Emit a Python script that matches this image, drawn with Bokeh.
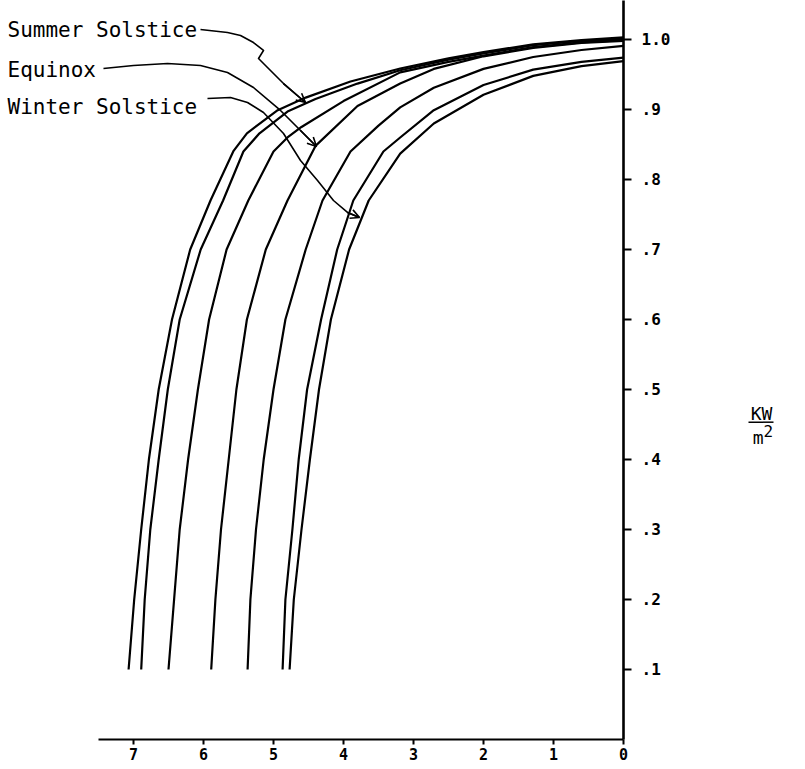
from bokeh.plotting import figure
from bokeh.layouts import row
from bokeh.models import Range1d, FixedTicker, Arrow, OpenHead
from bokeh.core.properties import value
from bokeh.embed import file_html
from bokeh.resources import INLINE

# ---- data (x: distance value, y: KW/m^2) ----
c1_x = [7.07, 6.99, 6.89, 6.78, 6.64, 6.45, 6.19, 5.90, 5.57, 5.38, 4.94, 4.54, 3.90, 3.19, 2.50, 2.00, 1.29, 0.60, 0.0]
c1_y = [0.10, 0.20, 0.30, 0.40, 0.50, 0.60, 0.70, 0.77, 0.841, 0.866, 0.899, 0.917, 0.940, 0.9585, 0.973, 0.982, 0.993, 0.999, 1.003]
c2_x = [6.89, 6.84, 6.76, 6.64, 6.51, 6.34, 6.04, 5.72, 5.43, 5.20, 4.80, 4.40, 3.80, 3.19, 2.50, 2.00, 1.29, 0.60, 0.0]
c2_y = [0.10, 0.20, 0.30, 0.40, 0.50, 0.60, 0.70, 0.77, 0.84, 0.866, 0.897, 0.915, 0.937, 0.956, 0.971, 0.980, 0.992, 0.998, 1.001]
c3_x = [6.50, 6.42, 6.34, 6.22, 6.08, 5.92, 5.67, 5.36, 5.00, 4.80, 4.60, 4.00, 3.19, 2.50, 2.00, 1.29, 0.60, 0.0]
c3_y = [0.10, 0.20, 0.30, 0.40, 0.50, 0.60, 0.70, 0.77, 0.84, 0.860, 0.875, 0.912, 0.953, 0.968, 0.977, 0.989, 0.996, 0.999]
c4_x = [5.89, 5.83, 5.75, 5.64, 5.53, 5.38, 5.11, 4.80, 4.40, 3.80, 3.19, 2.71, 2.00, 1.29, 0.60, 0.0]
c4_y = [0.10, 0.20, 0.30, 0.40, 0.50, 0.60, 0.70, 0.77, 0.848, 0.905, 0.937, 0.958, 0.976, 0.988, 0.995, 0.998]
c5_x = [5.37, 5.33, 5.25, 5.14, 5.00, 4.83, 4.54, 4.30, 3.90, 3.50, 3.19, 2.71, 2.00, 1.29, 0.60, 0.0]
c5_y = [0.10, 0.20, 0.30, 0.40, 0.50, 0.60, 0.70, 0.77, 0.84, 0.877, 0.903, 0.931, 0.958, 0.975, 0.985, 0.991]
c6_x = [4.87, 4.83, 4.73, 4.64, 4.52, 4.32, 4.09, 3.86, 3.43, 3.19, 2.71, 2.00, 1.29, 0.60, 0.0]
c6_y = [0.10, 0.20, 0.30, 0.40, 0.50, 0.60, 0.70, 0.77, 0.84, 0.860, 0.899, 0.935, 0.957, 0.968, 0.974]
c7_x = [4.77, 4.71, 4.60, 4.48, 4.35, 4.18, 3.92, 3.64, 3.19, 2.71, 2.00, 1.29, 0.60, 0.0]
c7_y = [0.10, 0.20, 0.30, 0.40, 0.50, 0.60, 0.70, 0.77, 0.837, 0.880, 0.921, 0.948, 0.962, 0.969]

x_ticks = [0, 1, 2, 3, 4, 5, 6, 7]
y_ticks = [0.1, 0.2, 0.3, 0.4, 0.5, 0.6, 0.7, 0.8, 0.9, 1.0]
y_tick_labels = [".1", ".2", ".3", ".4", ".5", ".6", ".7", ".8", ".9", "1.0"]

series_labels = ["Summer Solstice", "Equinox", "Winter Solstice"]
label_x = 8.80
label_y = [1.013, 0.956, 0.903]

# leader paths from the labels to the curves
summer_lx = [6.043, 5.657, 5.471, 5.286, 5.143, 5.214, 5.086, 4.857, 4.543]
summer_ly = [1.0143, 1.010, 1.0057, 0.9957, 0.9843, 0.9729, 0.960, 0.9371, 0.910]
equinox_lx = [7.429, 7.0, 6.514, 6.043, 5.657, 5.286, 4.90, 4.614, 4.386]
equinox_ly = [0.9586, 0.9629, 0.9657, 0.9629, 0.9529, 0.9314, 0.8986, 0.870, 0.8471]
winter_lx = [5.943, 5.614, 5.371, 5.143, 4.857, 4.614, 4.371, 4.143, 3.943, 3.771]
winter_ly = [0.9157, 0.9171, 0.910, 0.8957, 0.8657, 0.8271, 0.7986, 0.770, 0.7529, 0.7457]

# unit label "KW / m^2" (placed in a side panel figure)
unit_top_text = ["KW"]
unit_bottom_text = ["m"]
unit_sup_text = ["2"]

MONO = "DejaVu Sans Mono"
Y_TOP = 1.0557
H = 763

p = figure(width=673, height=H,
           x_range=Range1d(8.9, 0), y_range=Range1d(0, Y_TOP),
           y_axis_location="right", x_axis_location="below",
           output_backend="svg", toolbar_location=None,
           min_border_left=0, min_border_top=0, min_border_right=50, min_border_bottom=24)
p.grid.visible = False
p.outline_line_color = None
p.background_fill_color = "white"
p.border_fill_color = "white"

for xs, ys in [(c1_x, c1_y), (c2_x, c2_y), (c3_x, c3_y), (c4_x, c4_y),
               (c5_x, c5_y), (c6_x, c6_y), (c7_x, c7_y)]:
    p.line(xs, ys, line_color="black", line_width=2.2, line_join="round")

# x axis
xa = p.xaxis[0]
xa.ticker = FixedTicker(ticks=x_ticks)
xa.bounds = (0, 7.5)
xa.axis_line_width = 2
xa.axis_line_color = "black"
xa.major_tick_out = 5
xa.major_tick_in = 0
xa.major_tick_line_width = 2
xa.minor_tick_line_color = None
xa.major_label_standoff = 3
xa.major_label_text_font = MONO
xa.major_label_text_font_style = "bold"
xa.major_label_text_font_size = "15px"
xa.major_label_text_color = "black"

# y axis (right side)
ya = p.yaxis[0]
ya.ticker = FixedTicker(ticks=y_ticks)
ya.major_label_overrides = {t: s for t, s in zip(y_ticks, y_tick_labels)}
ya.axis_line_width = 2.6
ya.axis_line_color = "black"
ya.major_tick_out = 8
ya.major_tick_in = 0
ya.major_tick_line_width = 2
ya.minor_tick_line_color = None
ya.major_label_standoff = 10
ya.major_label_text_font = MONO
ya.major_label_text_font_style = "bold"
ya.major_label_text_font_size = "16px"
ya.major_label_text_color = "black"

# series labels
p.text(x=[label_x] * 3, y=label_y, text=series_labels,
       text_font=value(MONO), text_font_size="21px", text_color="black",
       text_align="left", text_baseline="middle")

for lx, ly in [(summer_lx, summer_ly), (equinox_lx, equinox_ly), (winter_lx, winter_ly)]:
    p.line(lx, ly, line_color="black", line_width=1.6, line_join="round")
    p.add_layout(Arrow(end=OpenHead(size=9, line_width=1.6, line_color="black"),
                       x_start=lx[-2], y_start=ly[-2], x_end=lx[-1], y_end=ly[-1],
                       line_width=1.6, line_color="black"))

# side panel carrying the unit label
q = figure(width=128, height=H, x_range=Range1d(0, 128), y_range=Range1d(0, Y_TOP),
           x_axis_location=None, y_axis_location=None,
           output_backend="svg", toolbar_location=None,
           min_border_left=0, min_border_top=0, min_border_right=0, min_border_bottom=24)
q.grid.visible = False
q.outline_line_color = None
q.background_fill_color = "white"
q.border_fill_color = "white"
q.text(x=[88], y=[0.465], text=unit_top_text, text_font=value(MONO), text_font_size="18px",
       text_color="black", text_align="center", text_baseline="middle")
q.segment(x0=[75], y0=[0.4533], x1=[100], y1=[0.4533], line_color="black", line_width=1.5)
q.text(x=[90], y=[0.431], text=unit_bottom_text, text_font=value(MONO), text_font_size="18px",
       text_color="black", text_align="right", text_baseline="middle")
q.text(x=[90], y=[0.441], text=unit_sup_text, text_font=value(MONO), text_font_size="16px",
       text_color="black", text_align="left", text_baseline="middle")

layout = row(p, q, spacing=0)
open("out.html", "w").write(file_html(layout, INLINE))
